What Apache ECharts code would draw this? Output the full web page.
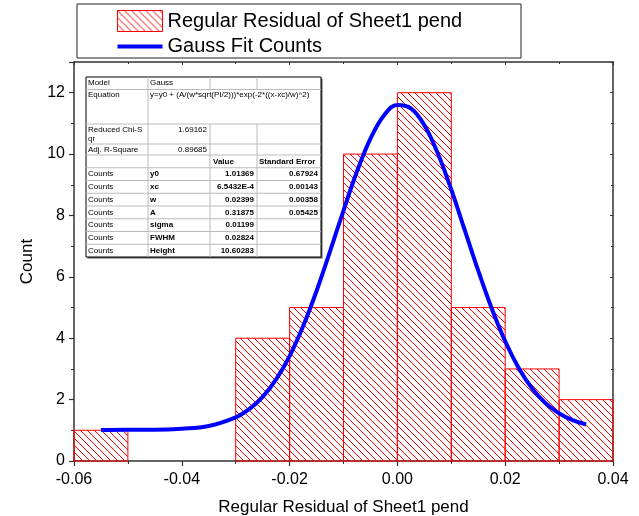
<!DOCTYPE html>
<html>
<head>
<meta charset="utf-8">
<script src="https://cdn.jsdelivr.net/npm/echarts@6/dist/echarts.min.js"></script>
<style>
  html, body { margin: 0; padding: 0; background: #fff; }
  #chart { width: 639px; height: 516px; }
</style>
</head>
<body>
<div id="chart"></div>
<script>
// histogram bins
var binStart = [-0.06, -0.05, -0.04, -0.03, -0.02, -0.01, 0, 0.01, 0.02, 0.03];
var binEnd = [-0.05, -0.04, -0.03, -0.02, -0.01, 0, 0.01, 0.02, 0.03, 0.04];
var counts = [1, 0, 0, 4, 5, 10, 12, 5, 3, 2];

// gauss fit curve
var fitX = [-0.055, -0.05, -0.045, -0.04, -0.035, -0.03, -0.0275, -0.025, -0.0225, -0.02,
            -0.0175, -0.015, -0.0125, -0.01, -0.0075, -0.005, -0.0025, 0, 0.0025, 0.005,
            0.0075, 0.01, 0.0125, 0.015, 0.0175, 0.02, 0.0225, 0.025, 0.0275, 0.03, 0.0325, 0.035];
var fitY = [1.01, 1.02, 1.02, 1.05, 1.14, 1.42, 1.69, 2.09, 2.66, 3.42,
            4.39, 5.54, 6.83, 8.16, 9.43, 10.50, 11.26, 11.60, 11.49, 10.94,
            10.02, 8.84, 7.52, 6.20, 4.97, 3.90, 3.03, 2.36, 1.88, 1.55, 1.33, 1.19];

var seriesNames = ['Regular Residual of Sheet1 pend', 'Gauss Fit Counts'];
var xTitle = 'Regular Residual of Sheet1 pend';
var yTitle = 'Count';

// fit report table
var tableRows = [
	['Model', 'Gauss', '', ''],
	['Equation', 'y=y0 + (A/(w*sqrt(PI/2)))*exp(-2*((x-xc)/w)^2)', '', ''],
	['Reduced Chi-S\nqr', '1.69162', '', ''],
	['Adj. R-Square', '0.89685', '', ''],
	['', '', 'Value', 'Standard Error'],
	['Counts', 'y0', '1.01369', '0.67924'],
	['Counts', 'xc', '6.5432E-4', '0.00143'],
	['Counts', 'w', '0.02399', '0.00358'],
	['Counts', 'A', '0.31875', '0.05425'],
	['Counts', 'sigma', '0.01199', ''],
	['Counts', 'FWHM', '0.02824', ''],
	['Counts', 'Height', '10.60283', '']
];

var FONT = '"Liberation Sans", Arial, sans-serif';

// hatch pattern "\\\\"
function makeHatch() {
	var s = 7;
	var cv = document.createElement('canvas');
	cv.width = s; cv.height = s;
	var ctx = cv.getContext('2d');
	ctx.strokeStyle = '#ff0000';
	ctx.lineWidth = 1;
	ctx.beginPath();
	ctx.moveTo(-1, -1); ctx.lineTo(s + 1, s + 1);
	ctx.moveTo(s - 1, -1); ctx.lineTo(s + 1, 1);
	ctx.moveTo(-1, s - 1); ctx.lineTo(1, s + 1);
	ctx.stroke();
	return cv;
}
var hatch = { image: makeHatch(), repeat: 'repeat' };

var barData = [];
for (var i = 0; i < counts.length; i++) {
	barData.push([binStart[i], binEnd[i], counts[i]]);
}
var fitData = [];
for (var i = 0; i < fitX.length; i++) {
	fitData.push([fitX[i], fitY[i]]);
}

// table graphics
function buildTable() {
	var cols = [86, 148, 210, 257, 321];
	var rows = [77, 89.5, 124, 144, 155];
	for (var k = 1; k <= 8; k++) rows.push(155 + k * 12.75);
	var els = [];
	var left = cols[0], right = cols[4], top = rows[0], bottom = rows[rows.length - 1];
	els.push({ type: 'rect', shape: { x: left + 1.5, y: top + 1.5, width: right - left, height: bottom - top },
		style: { fill: '#555' }, z: 100 });
	els.push({ type: 'rect', shape: { x: left, y: top, width: right - left, height: bottom - top },
		style: { fill: '#fff', stroke: '#000', lineWidth: 1 }, z: 101 });
	// horizontal lines
	for (var r = 1; r < rows.length - 1; r++) {
		els.push({ type: 'line', shape: { x1: left, y1: rows[r], x2: right, y2: rows[r] },
			style: { stroke: '#bbb', lineWidth: 1 }, z: 102 });
	}
	// vertical lines
	for (var c = 1; c < cols.length - 1; c++) {
		for (var r = 0; r < rows.length - 1; r++) {
			if (r === 1 && c > 1) continue; // equation cell spans
			els.push({ type: 'line', shape: { x1: cols[c], y1: rows[r], x2: cols[c], y2: rows[r + 1] },
				style: { stroke: '#bbb', lineWidth: 1 }, z: 102 });
		}
	}
	for (var r = 0; r < tableRows.length; r++) {
		var row = tableRows[r];
		for (var c = 0; c < 4; c++) {
			var txt = row[c];
			if (!txt) continue;
			var bold = (r >= 4 && c >= 1);
			var rightAlign = (r >= 2 && r <= 3 && c === 1) || (r >= 5 && c >= 2);
			var x = rightAlign ? cols[c + 1] - 3 : cols[c] + 2;
			if (r === 4 && c === 2) x = cols[c] + 3;
			var y = r >= 4 ? (rows[r] + rows[r + 1]) / 2 : rows[r] + 1;
			els.push({ type: 'text', z: 103, x: x, y: y,
				style: { text: txt, font: (bold ? 'bold ' : '') + '8px ' + FONT, fill: '#000',
					textAlign: rightAlign ? 'right' : 'left',
					textVerticalAlign: r >= 4 ? 'middle' : 'top', lineHeight: 9 } });
		}
	}
	return els;
}

var chart = echarts.init(document.getElementById('chart'));
var axisLine = { show: true, onZero: false, lineStyle: { color: '#333', width: 1.5 } };
var option = {
	animation: false,
	backgroundColor: '#fff',
	grid: { left: 74, right: 26, top: 62, bottom: 55, containLabel: false, outerBoundsMode: 'none' },
	legend: {
		orient: 'vertical',
		left: 112,
		top: 5,
		itemWidth: 45,
		itemHeight: 21,
		itemGap: 4,
		textStyle: { fontFamily: FONT, fontSize: 20, color: '#000', lineHeight: 21 },
		data: [
			{ name: seriesNames[0], icon: 'rect', itemStyle: { color: hatch, borderColor: '#ff0000', borderWidth: 1 } },
			{ name: seriesNames[1], icon: 'path://M0,0 M0,8.5 L45,8.5 L45,12.5 L0,12.5 Z M45,21',
				itemStyle: { color: '#0000ff', borderWidth: 0 } }
		]
	},
	graphic: [{ type: 'rect', shape: { x: 77, y: 4, width: 444, height: 54 },
		style: { fill: 'none', stroke: '#222', lineWidth: 1 }, z: 0 }].concat(buildTable()),
	xAxis: [{
		type: 'value', min: -0.06, max: 0.04, interval: 0.02,
		name: xTitle, nameLocation: 'middle', nameGap: 38,
		nameTextStyle: { fontFamily: FONT, fontSize: 17, color: '#000' },
		axisLine: axisLine,
		axisTick: { show: true, length: 5, lineStyle: { color: '#333', width: 1.2 } },
		minorTick: { show: true, splitNumber: 2, length: 3, lineStyle: { color: '#333' } },
		axisLabel: { fontFamily: FONT, fontSize: 16, color: '#000', margin: 11,
			formatter: function (v) { return v.toFixed(2); } },
		splitLine: { show: false }
	}, {
		type: 'value', position: 'top', min: -0.06, max: 0.04, interval: 0.02,
		axisLine: axisLine,
		axisTick: { show: true, inside: true, length: 3, lineStyle: { color: '#333' } },
		minorTick: { show: true, splitNumber: 2, length: 2, lineStyle: { color: '#333' } },
		axisLabel: { show: false },
		splitLine: { show: false }
	}],
	yAxis: [{
		type: 'value', min: 0, max: 13, interval: 2,
		name: yTitle, nameLocation: 'middle', nameGap: 36,
		nameTextStyle: { fontFamily: FONT, fontSize: 17, color: '#000' },
		axisLine: axisLine,
		axisTick: { show: true, length: 5, lineStyle: { color: '#333', width: 1.2 } },
		minorTick: { show: true, splitNumber: 2, length: 3, lineStyle: { color: '#333' } },
		axisLabel: { fontFamily: FONT, fontSize: 16, color: '#000', margin: 9, showMaxLabel: false },
		splitLine: { show: false }
	}, {
		type: 'value', position: 'right', min: 0, max: 13, interval: 2,
		axisLine: axisLine,
		axisTick: { show: true, inside: true, length: 3, lineStyle: { color: '#333' } },
		minorTick: { show: true, splitNumber: 2, length: 2, lineStyle: { color: '#333' } },
		axisLabel: { show: false },
		splitLine: { show: false }
	}],
	series: [{
		name: seriesNames[0],
		type: 'custom',
		z: 2,
		encode: { x: [0, 1], y: 2 },
		data: barData,
		itemStyle: { color: '#ff0000' },
		renderItem: function (params, api) {
			var c = api.value(2);
			if (!c) return;
			var p0 = api.coord([api.value(0), c]);
			var p1 = api.coord([api.value(1), 0]);
			return {
				type: 'rect',
				shape: { x: p0[0], y: p0[1], width: p1[0] - p0[0], height: p1[1] - p0[1] },
				style: { fill: hatch, stroke: '#ff0000', lineWidth: 1 }
			};
		}
	}, {
		name: seriesNames[1],
		type: 'line',
		z: 5,
		data: fitData,
		smooth: 0.4,
		symbol: 'none',
		lineStyle: { color: '#0000ff', width: 4 },
		itemStyle: { color: '#0000ff' }
	}]
};
chart.setOption(option);
</script>
</body>
</html>
